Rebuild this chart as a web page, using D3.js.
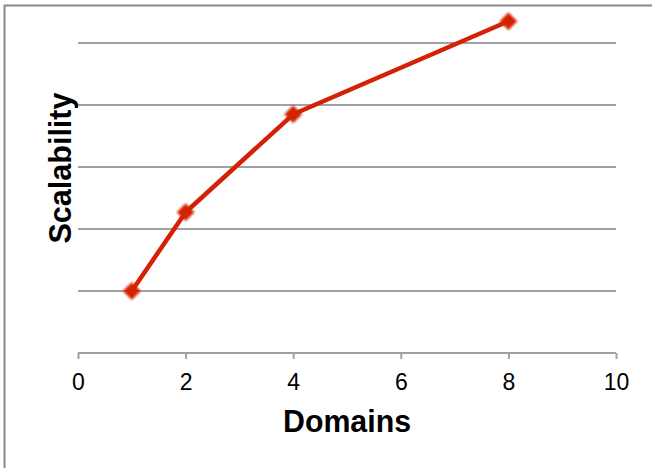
<!DOCTYPE html>
<html><head><meta charset="utf-8">
<script src="https://cdn.jsdelivr.net/npm/d3@7"></script>
<style>body{margin:0;background:#fff}svg{display:block}</style>
</head><body>
<script>
const domains = [1, 2, 4, 8];
const scalability = [1.0, 2.27, 3.85, 5.35];
const xTicks = [0, 2, 4, 6, 8, 10];
const yGrid = [1, 2, 3, 4, 5];

const W = 652, H = 468;
const FONT = "Liberation Sans, Arial, Helvetica, sans-serif";
const svg = d3.select("body").append("svg").attr("width", W).attr("height", H);
svg.append("rect").attr("width", W).attr("height", H).attr("fill", "#fff");
const defs = svg.append("defs");
defs.append("filter").attr("id", "soft").append("feGaussianBlur").attr("stdDeviation", 0.8);
// frame
svg.append("path").attr("d", `M4.5,${H} L4.5,5.5 L${W},5.5`).attr("fill","none").attr("stroke","#8a8a8a").attr("stroke-width",2);

const x = d3.scaleLinear().domain([0, 10]).range([78, 616]);
const y = d3.scaleLinear().domain([0, 5]).range([353, 43]);

// gridlines
svg.append("g").selectAll("line").data(yGrid).join("line")
  .attr("x1", 78).attr("x2", 616)
  .attr("y1", d => y(d)).attr("y2", d => y(d))
  .attr("stroke", "#a0a0a0").attr("stroke-width", 2);

// x axis
const xa = svg.append("g").attr("transform", `translate(0,${y(0)})`)
  .call(d3.axisBottom(x).tickValues(xTicks).tickSize(6).tickFormat(d3.format("d")));
xa.select(".domain").attr("stroke", "#a0a0a0").attr("stroke-width", 2).attr("d", `M78,0H616`);
xa.selectAll(".tick line").attr("stroke", "#a0a0a0").attr("stroke-width", 2).attr("y1", 0).attr("y2", 6);
xa.selectAll(".tick text").attr("font-family", FONT).attr("font-size", 23).attr("fill", "#000")
  .attr("y", 37).attr("dy", null);

// labels
svg.append("text").attr("x", 347).attr("y", 432).attr("text-anchor", "middle")
  .attr("font-family", FONT).attr("font-weight", "bold").attr("font-size", 32)
  .attr("textLength", 128).attr("lengthAdjust", "spacingAndGlyphs")
  .text("Domains");
svg.append("text").attr("transform", "translate(71,168) rotate(-90)").attr("text-anchor", "middle")
  .attr("font-family", FONT).attr("font-weight", "bold").attr("font-size", 31)
  .attr("textLength", 151).attr("lengthAdjust", "spacingAndGlyphs")
  .text("Scalability");

const data = domains.map((d, i) => ({x: d, y: scalability[i]}));
svg.append("path").datum(data)
  .attr("d", d3.line().x(d => x(d.x)).y(d => y(d.y)))
  .attr("fill", "none").attr("stroke", "#d42106").attr("stroke-width", 4.5).attr("stroke-linejoin", "round");

svg.append("g").selectAll("path").data(data).join("path")
  .attr("transform", d => `translate(${x(d.x)},${y(d.y)}) rotate(45)`)
  .attr("d", d3.symbol().type(d3.symbolSquare).size(160))
  .attr("fill", "#d42106").attr("filter", "url(#soft)");
</script>
</body></html>
